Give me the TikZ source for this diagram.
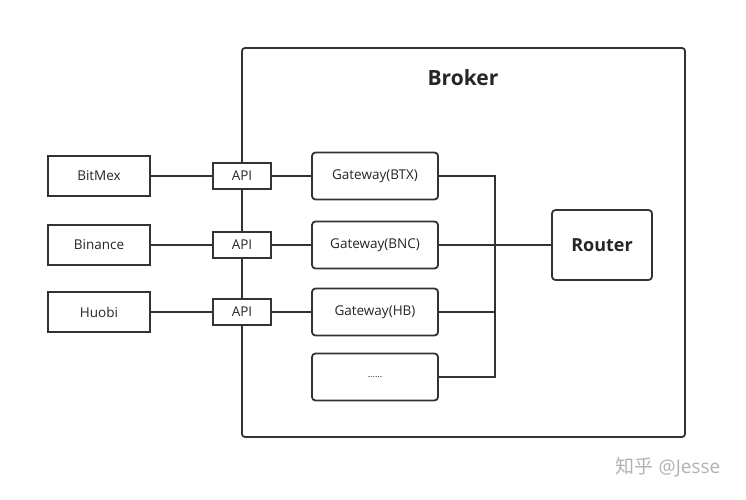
\documentclass[tikz,border=0pt]{standalone}
\usepackage{fontspec}
\setmainfont{Open Sans}
\newfontfamily\cjkfont{Noto Sans CJK SC}
\begin{document}
\begin{tikzpicture}[x=1pt,y=-1pt,
  line width=1.8pt, draw=black!80,
  ln/.style={draw=black!80,line width=1.8pt},
  sqbox/.style={draw=black!80,line width=1.8pt,fill=white,inner sep=0pt,font=\fontsize{13.5}{15}\selectfont,text=black!85},
  rbox/.style={sqbox,rounded corners=3.5pt}]
\useasboundingbox (0,0) rectangle (746,500);
% Broker container
\draw[ln,rounded corners=3pt] (242,48) rectangle (685,437);
\node[font=\bfseries\fontsize{21}{24}\selectfont,text=black!85] (broker) at (463,78) {Broker};
% exchanges
\node[sqbox,minimum width=102pt,minimum height=40pt] (bitmex) at (99,176) {BitMex};
\node[sqbox,minimum width=102pt,minimum height=40pt] (binance) at (99,245) {Binance};
\node[sqbox,minimum width=102pt,minimum height=40pt] (huobi) at (99,312) {Huobi};
% gateways
\node[rbox,minimum width=126pt,minimum height=47pt] (g1) at (375,176) {Gateway(BTX)};
\node[rbox,minimum width=126pt,minimum height=47pt] (g2) at (375,245) {Gateway(BNC)};
\node[rbox,minimum width=126pt,minimum height=47pt] (g3) at (375,312) {Gateway(HB)};
\node[rbox,minimum width=126pt,minimum height=47pt,font=\fontsize{9}{11}\selectfont] (g4) at (375,377) {......};
% router
\node[rbox,minimum width=100pt,minimum height=70pt,font=\bfseries\fontsize{18}{21}\selectfont] (router) at (602,245) {Router};
% API boxes (drawn over the container border)
\node[sqbox,minimum width=58pt,minimum height=26pt] (a1) at (242,176) {API};
\node[sqbox,minimum width=58pt,minimum height=26pt] (a2) at (242,245) {API};
\node[sqbox,minimum width=58pt,minimum height=26pt] (a3) at (242,312) {API};
% connectors
\draw[ln] (bitmex) -- (a1);
\draw[ln] (binance) -- (a2);
\draw[ln] (huobi) -- (a3);
\draw[ln] (a1) -- (g1);
\draw[ln] (a2) -- (g2);
\draw[ln] (a3) -- (g3);
\coordinate (bt) at (495,176);
\coordinate (bb) at (495,377);
\coordinate (bm) at (495,245);
\draw[ln] (g1.east) -- (bt) -- (bb) -- (g4.east);
\draw[ln] (g2.east) -- (router.west);
\draw[ln] (g3.east) -- (bm |- g3.east);
% watermark
\node[text=black!30,font=\fontsize{19}{22}\selectfont] (wm) at (668,467) {{\cjkfont 知乎} @Jesse};
\end{tikzpicture}
\end{document}
